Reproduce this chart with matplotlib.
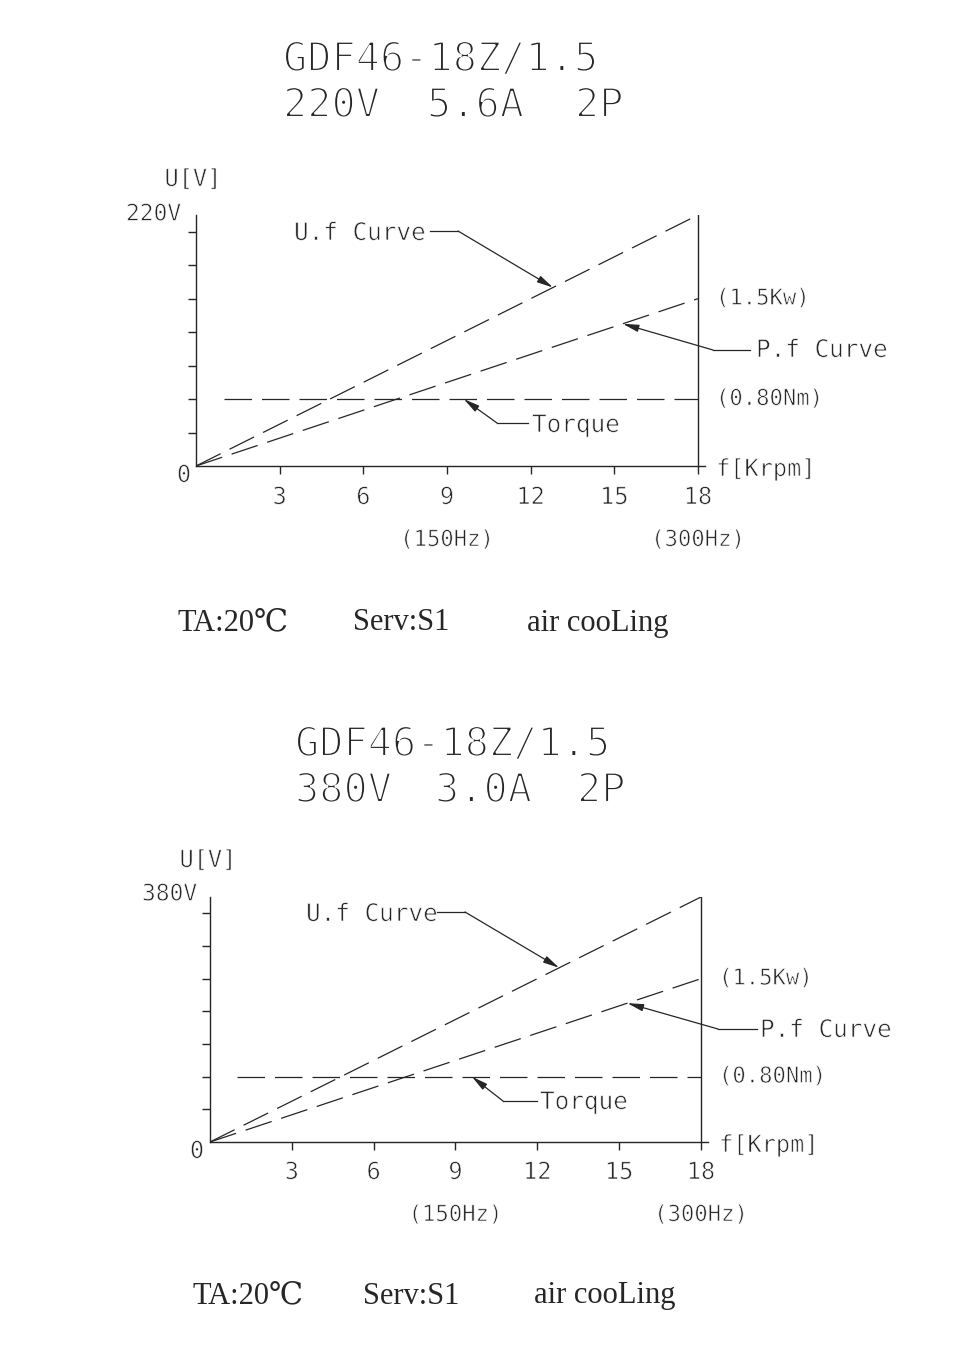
import numpy as np
import matplotlib
matplotlib.use("Agg")
import matplotlib.pyplot as plt
import matplotlib.patheffects as pe
from matplotlib.lines import Line2D
from matplotlib.transforms import offset_copy

# ---- data -------------------------------------------------------------
model = "GDF46-18Z/1.5"
rating_voltage = ["220V", "380V"]
rating_current = ["5.6A", "3.0A"]
rating_poles = ["2P", "2P"]
rated_voltage = [220, 380]

speed_krpm = [0, 18]
speed_ticks = [3, 6, 9, 12, 15, 18]
freq_mark_krpm = [9, 18]
freq_mark_label = ["(150Hz)", "(300Hz)"]

power_kw = [0, 1.5]
power_label = "(1.5Kw)"
torque_speed_krpm = [1.0, 18]
torque_nm = [0.80, 0.80]
torque_label = "(0.80Nm)"

# speeds at which the callout arrows touch each curve
callout_uf_krpm = 12.8
callout_pf_krpm = 15.3
callout_tq_krpm = 9.6

footer = ["TA:20\u2103", "Serv:S1", "air cooLing"]

# vertical scale: 7.5 divisions up to rated voltage
v_divisions = 7.5
power_per_div = 0.3
torque_per_div = 0.4

# ---- style ------------------------------------------------------------
W, H = 979, 1354
INK = "#262626"
MONO = ["DejaVu Sans Mono"]
SERIF = ["Liberation Serif", "DejaVu Serif", "DejaVu Sans"]
DASH = (0, (22, 8))
LW = 0.9
SMALL_SHAVE = 0.5


def thin(w):
    """Shave the glyph outlines so the lettering reads as a fine stroke."""
    return [pe.Normal(),
            pe.PathPatchEffect(edgecolor="white", facecolor="none",
                               linewidth=w)]


fig = plt.figure(figsize=(W / 100, H / 100), dpi=100)
fig.patch.set_facecolor("white")


def fx(x):
    return x / W


def fy(y):
    return 1 - y / H


def ftext(x, y, s, size, family=MONO, ha="left", va="center",
          shave=SMALL_SHAVE):
    t = fig.text(fx(x), fy(y), s, fontsize=size, family=family, color=INK,
                 ha=ha, va=va)
    if shave:
        t.set_path_effects(thin(shave))
    return t


def fline(xs, ys):
    fig.add_artist(Line2D([fx(v) for v in xs], [fy(v) for v in ys],
                          transform=fig.transFigure, color=INK, lw=LW))


# per-panel placement (pixels, origin at top-left)
panels = [
    dict(left=196, bottom=466, x18=698, top=215, title_y=(60, 106),
         title_x=283, rating_x=(283, 427, 575), ulabel=(193, 179),
         vlabel=(181, 214), zero=(184, 475), tick_y=497, freq_y=540,
         uf_text=(294, 233), uf_elbow=(430, 458, 231),
         pf_text=(756, 350), pf_elbow=(750, 713, 350),
         tq_text=(532, 425), tq_elbow=(528, 497, 423),
         footer_x=(178, 353, 527), footer_y=623),
    dict(left=210, bottom=1142, x18=701, top=897, title_y=(745, 791),
         title_x=295, rating_x=(295, 435, 577), ulabel=(208, 860),
         vlabel=(197, 894), zero=(197, 1151), tick_y=1172, freq_y=1215,
         uf_text=(306, 914), uf_elbow=(437, 465, 912),
         pf_text=(760, 1030), pf_elbow=(757, 718, 1029),
         tq_text=(540, 1102), tq_elbow=(537, 503, 1101),
         footer_x=(193, 363, 534), footer_y=1296),
]

X_END = 18.25

for i, p in enumerate(panels):
    vmax = rated_voltage[i]
    px_per_krpm = (p["x18"] - p["left"]) / 18
    right = p["left"] + px_per_krpm * X_END
    ax = fig.add_axes([fx(p["left"]), fy(p["bottom"]),
                       (right - p["left"]) / W, (p["bottom"] - p["top"]) / H])
    ax.set_xlim(0, X_END)
    ax.set_ylim(0, vmax)
    ax.patch.set_alpha(0)
    for side in ("top", "right"):
        ax.spines[side].set_visible(False)
    for side in ("left", "bottom"):
        ax.spines[side].set_color(INK)
        ax.spines[side].set_linewidth(1.0)
    ax.axvline(18, color=INK, lw=1.0)

    ax.set_xticks(speed_ticks)
    ax.set_xticklabels([])
    v_step = vmax / v_divisions
    ax.set_yticks([v_step * k for k in range(1, 8)])
    ax.set_yticklabels([])
    ax.tick_params(axis="both", direction="out", color=INK, width=1.0,
                   length=6)

    # secondary scales for power and torque
    ax_p = ax.twinx()
    ax_p.set_ylim(0, power_per_div * v_divisions)
    ax_t = ax.twinx()
    ax_t.set_ylim(0, torque_per_div * v_divisions)
    for a in (ax_p, ax_t):
        a.set_axis_off()

    # curves
    ax.plot(speed_krpm, [0, vmax], color=INK, lw=LW, linestyle=DASH)
    ax_p.plot(speed_krpm, power_kw, color=INK, lw=LW, linestyle=DASH)
    ax_t.plot(torque_speed_krpm, torque_nm, color=INK, lw=LW, linestyle=DASH)

    # tick labels under the speed axis
    xt = offset_copy(ax.get_xaxis_transform(), fig=fig, x=0,
                     y=-(p["tick_y"] - p["bottom"]), units="dots")
    for s in speed_ticks:
        t = ax.text(s, 0, str(s), transform=xt, fontsize=17, family=MONO,
                    color=INK, ha="center", va="center")
        t.set_path_effects(thin(SMALL_SHAVE))
    ft = offset_copy(ax.get_xaxis_transform(), fig=fig, x=0,
                     y=-(p["freq_y"] - p["bottom"]), units="dots")
    for s, lab in zip(freq_mark_krpm, freq_mark_label):
        t = ax.text(s, 0, lab, transform=ft, fontsize=16, family=MONO,
                    color=INK, ha="center", va="center")
        t.set_path_effects(thin(SMALL_SHAVE))

    # right-hand labels
    rp = offset_copy(ax_p.transData, fig=fig, x=18, y=0, units="dots")
    t = ax_p.text(18, power_kw[-1], power_label, transform=rp, fontsize=16,
                  family=MONO, color=INK, ha="left", va="center")
    t.set_path_effects(thin(SMALL_SHAVE))
    rt = offset_copy(ax_t.transData, fig=fig, x=18, y=0, units="dots")
    t = ax_t.text(18, torque_nm[-1], torque_label, transform=rt,
                  fontsize=16, family=MONO, color=INK, ha="left",
                  va="center")
    t.set_path_effects(thin(SMALL_SHAVE))
    rf = offset_copy(ax.transData, fig=fig, x=18, y=-3, units="dots")
    t = ax.text(18, 0, "f[Krpm]", transform=rf, fontsize=17, family=MONO,
                color=INK, ha="left", va="center")
    t.set_path_effects(thin(SMALL_SHAVE))

    # axis captions
    ftext(p["ulabel"][0], p["ulabel"][1], "U[V]", 17, ha="center")
    ftext(p["vlabel"][0], p["vlabel"][1], rating_voltage[i], 16.5, ha="right")
    ftext(p["zero"][0], p["zero"][1], "0", 17, ha="center")

    # titles
    ftext(p["title_x"], p["title_y"][0], model, 29, shave=1.5)
    for x, s in zip(p["rating_x"],
                    (rating_voltage[i], rating_current[i], rating_poles[i])):
        ftext(x, p["title_y"][1], s, 29, shave=1.5)

    # callouts
    arrow = dict(arrowstyle="-|>,head_length=0.8,head_width=0.18",
                 color=INK, lw=LW, shrinkA=0, shrinkB=0, mutation_scale=12)

    ftext(p["uf_text"][0], p["uf_text"][1], "U.f Curve", 17.5)
    x0, x1, yy = p["uf_elbow"]
    fline([x0, x1], [yy, yy])
    ax.annotate("", xy=(callout_uf_krpm,
                        np.interp(callout_uf_krpm, speed_krpm, [0, vmax])),
                xycoords="data", xytext=(x1, H - yy),
                textcoords="figure pixels", arrowprops=arrow)

    ftext(p["pf_text"][0], p["pf_text"][1], "P.f Curve", 17.5)
    x0, x1, yy = p["pf_elbow"]
    fline([x0, x1], [yy, yy])
    ax_p.annotate("", xy=(callout_pf_krpm,
                          np.interp(callout_pf_krpm, speed_krpm, power_kw)),
                  xycoords="data", xytext=(x1, H - yy),
                  textcoords="figure pixels", arrowprops=arrow)

    ftext(p["tq_text"][0], p["tq_text"][1], "Torque", 17.5)
    x0, x1, yy = p["tq_elbow"]
    fline([x0, x1], [yy, yy])
    ax_t.annotate("", xy=(callout_tq_krpm,
                          np.interp(callout_tq_krpm, torque_speed_krpm,
                                    torque_nm)),
                  xycoords="data", xytext=(x1, H - yy),
                  textcoords="figure pixels", arrowprops=arrow)

    # operating conditions
    for x, s in zip(p["footer_x"], footer):
        ftext(x, p["footer_y"], s, 22, family=SERIF, shave=0)

fig.savefig("out.png", dpi=100, facecolor="white")
